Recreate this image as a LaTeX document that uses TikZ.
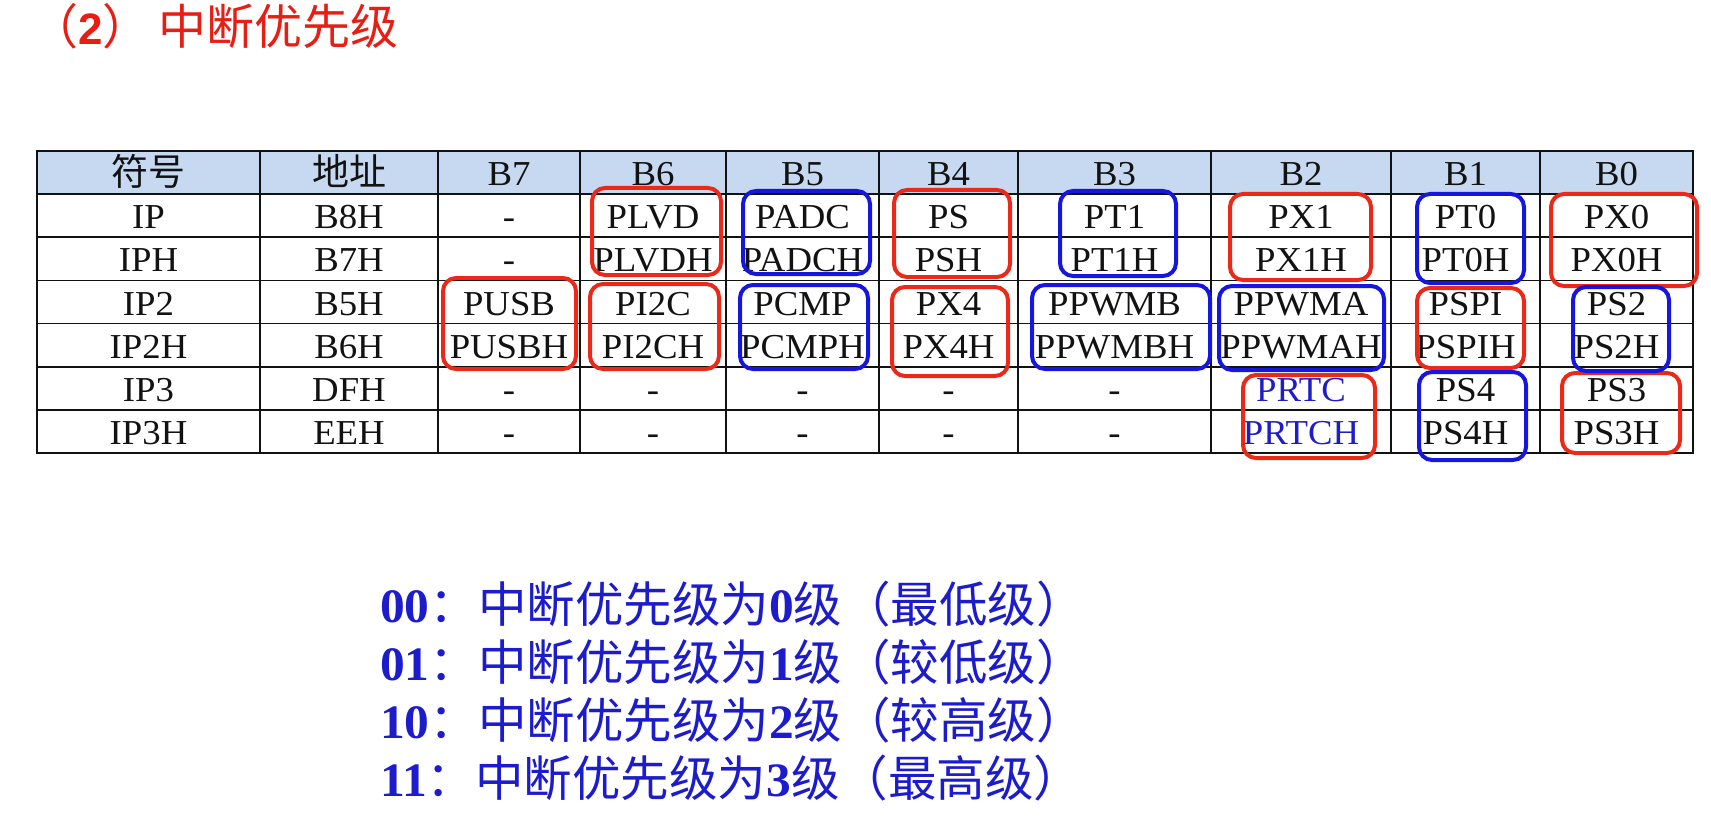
\documentclass[tikz,border=0pt]{standalone}
\usepackage{fontspec}
\setmainfont{Liberation Serif}
\newfontfamily\tbl{Liberation Serif}[FakeStretch=1.05]
\newfontfamily\digb{Liberation Serif}[FakeStretch=1.03]
\newfontfamily\cjk{Noto Sans CJK SC}
\newfontfamily\sansf{Liberation Sans}
\definecolor{titlered}{RGB}{232,30,20}
\definecolor{legblue}{RGB}{28,28,205}
\definecolor{boxred}{RGB}{236,40,24}
\definecolor{boxblue}{RGB}{22,22,222}
\definecolor{hdrfill}{RGB}{198,217,240}
\definecolor{ink}{RGB}{18,18,18}
\definecolor{prtcblue}{RGB}{30,30,200}
\tikzset{
  cell/.style={anchor=base, inner sep=0pt, text=ink, font=\tbl\fontsize{35}{40}\selectfont},
  gridline/.style={draw=ink, line width=1.6pt},
  outerline/.style={draw=ink, line width=2.4pt},
  rbox/.style={draw=boxred, line width=4pt, rounded corners=13pt},
  bbox/.style={draw=boxblue, line width=4pt, rounded corners=13pt},
  legend/.style={anchor=base west, inner sep=0pt, text=legblue, font=\fontsize{48.5}{52}\selectfont},
  titletext/.style={anchor=base west, inner sep=0pt, text=titlered, font=\fontsize{48}{52}\selectfont}
}
\newcommand\dg[1]{{\digb\bfseries\fontsize{48}{52}\selectfont #1}}
\begin{document}
\begin{tikzpicture}[x=1pt,y=-1pt]
\useasboundingbox (0,0) rectangle (1711,829);
\fill[white] (0,0) rectangle (1711,829);
% title
\node[titletext] (title) at (30,45) {{\cjk （}{\sansf\bfseries\fontsize{44}{50}\selectfont 2}{\cjk ）\kern8pt 中断优先级}};
% header fill
\fill[hdrfill] (37,151) rectangle (1693,194.1);
% grid
\foreach \y in {194.1,237.3,280.4,323.6,366.7,409.9}
  \draw[gridline] (37,\y) -- (1693,\y);
\foreach \x in {260,438,580,726,879,1018,1211,1391,1540}
  \draw[gridline] (\x,151) -- (\x,453);
\draw[outerline] (37,151) rectangle (1693,453);
% header row
\foreach \c/\t [count=\i] in {148.5/{\cjk\fontsize{37}{40}\selectfont 符号},349/{\cjk\fontsize{37}{40}\selectfont 地址},509/B7,653/B6,802.5/B5,948.5/B4,1114.5/B3,1301/B2,1465.5/B1,1616.5/B0}
  \node[cell] (h-\i) at (\c,185.6) {\t};
\foreach \c/\t [count=\i] in {148.5/IP,349/B8H,509/-,653/PLVD,802.5/PADC,948.5/PS,1114.5/PT1,1301/PX1,1465.5/PT0,1616.5/PX0}
  \node[cell] (a-\i) at (\c,228.8) {\t};
\foreach \c/\t [count=\i] in {148.5/IPH,349/B7H,509/-,653/PLVDH,802.5/PADCH,948.5/PSH,1114.5/PT1H,1301/PX1H,1465.5/PT0H,1616.5/PX0H}
  \node[cell] (b-\i) at (\c,272) {\t};
\foreach \c/\t [count=\i] in {148.5/IP2,349/B5H,509/PUSB,653/PI2C,802.5/PCMP,948.5/PX4,1114.5/PPWMB,1301/PPWMA,1465.5/PSPI,1616.5/PS2}
  \node[cell] (c-\i) at (\c,315.1) {\t};
\foreach \c/\t [count=\i] in {148.5/IP2H,349/B6H,509/PUSBH,653/PI2CH,802.5/PCMPH,948.5/PX4H,1114.5/PPWMBH,1301/PPWMAH,1465.5/PSPIH,1616.5/PS2H}
  \node[cell] (d-\i) at (\c,358.2) {\t};
\foreach \c/\t [count=\i] in {148.5/IP3,349/DFH,509/-,653/-,802.5/-,948.5/-,1114.5/-,1301/{\textcolor{prtcblue}{PRTC}},1465.5/PS4,1616.5/PS3}
  \node[cell] (e-\i) at (\c,401.4) {\t};
\foreach \c/\t [count=\i] in {148.5/IP3H,349/EEH,509/-,653/-,802.5/-,948.5/-,1114.5/-,1301/{\textcolor{prtcblue}{PRTCH}},1465.5/PS4H,1616.5/PS3H}
  \node[cell] (f-\i) at (\c,444.5) {\t};
% red boxes
\draw[rbox] (443,278) rectangle (576,369);
\draw[rbox] (592,188) rectangle (721,275);
\draw[rbox] (590,284) rectangle (719,369);
\draw[rbox] (894,190) rectangle (1010,277);
\draw[rbox] (892,287) rectangle (1008,376);
\draw[rbox] (1230,194) rectangle (1371,280);
\draw[rbox] (1243,375) rectangle (1375,458);
\draw[rbox] (1417,288) rectangle (1524,368);
\draw[rbox] (1551,194) rectangle (1697,286);
\draw[rbox] (1562,373) rectangle (1680,453);
% blue boxes
\draw[bbox] (743,191) rectangle (870,274);
\draw[bbox] (740,285) rectangle (868,369);
\draw[bbox] (1060,191) rectangle (1176,276);
\draw[bbox] (1032,285) rectangle (1210,369);
\draw[bbox] (1219,286) rectangle (1384,370);
\draw[bbox] (1417,194) rectangle (1524,283);
\draw[bbox] (1419,372) rectangle (1526,460);
\draw[bbox] (1573,287) rectangle (1669,371);
% legend
\node[legend] (l0) at (380,622) {\dg{00}{\cjk ：中断优先级为}\dg{0}{\cjk 级（最低级）}};
\node[legend] (l1) at (380,680) {\dg{01}{\cjk ：中断优先级为}\dg{1}{\cjk 级（较低级）}};
\node[legend] (l2) at (380,738) {\dg{10}{\cjk ：中断优先级为}\dg{2}{\cjk 级（较高级）}};
\node[legend] (l3) at (380,796) {\dg{11}{\cjk ：中断优先级为}\dg{3}{\cjk 级（最高级）}};
\end{tikzpicture}
\end{document}
